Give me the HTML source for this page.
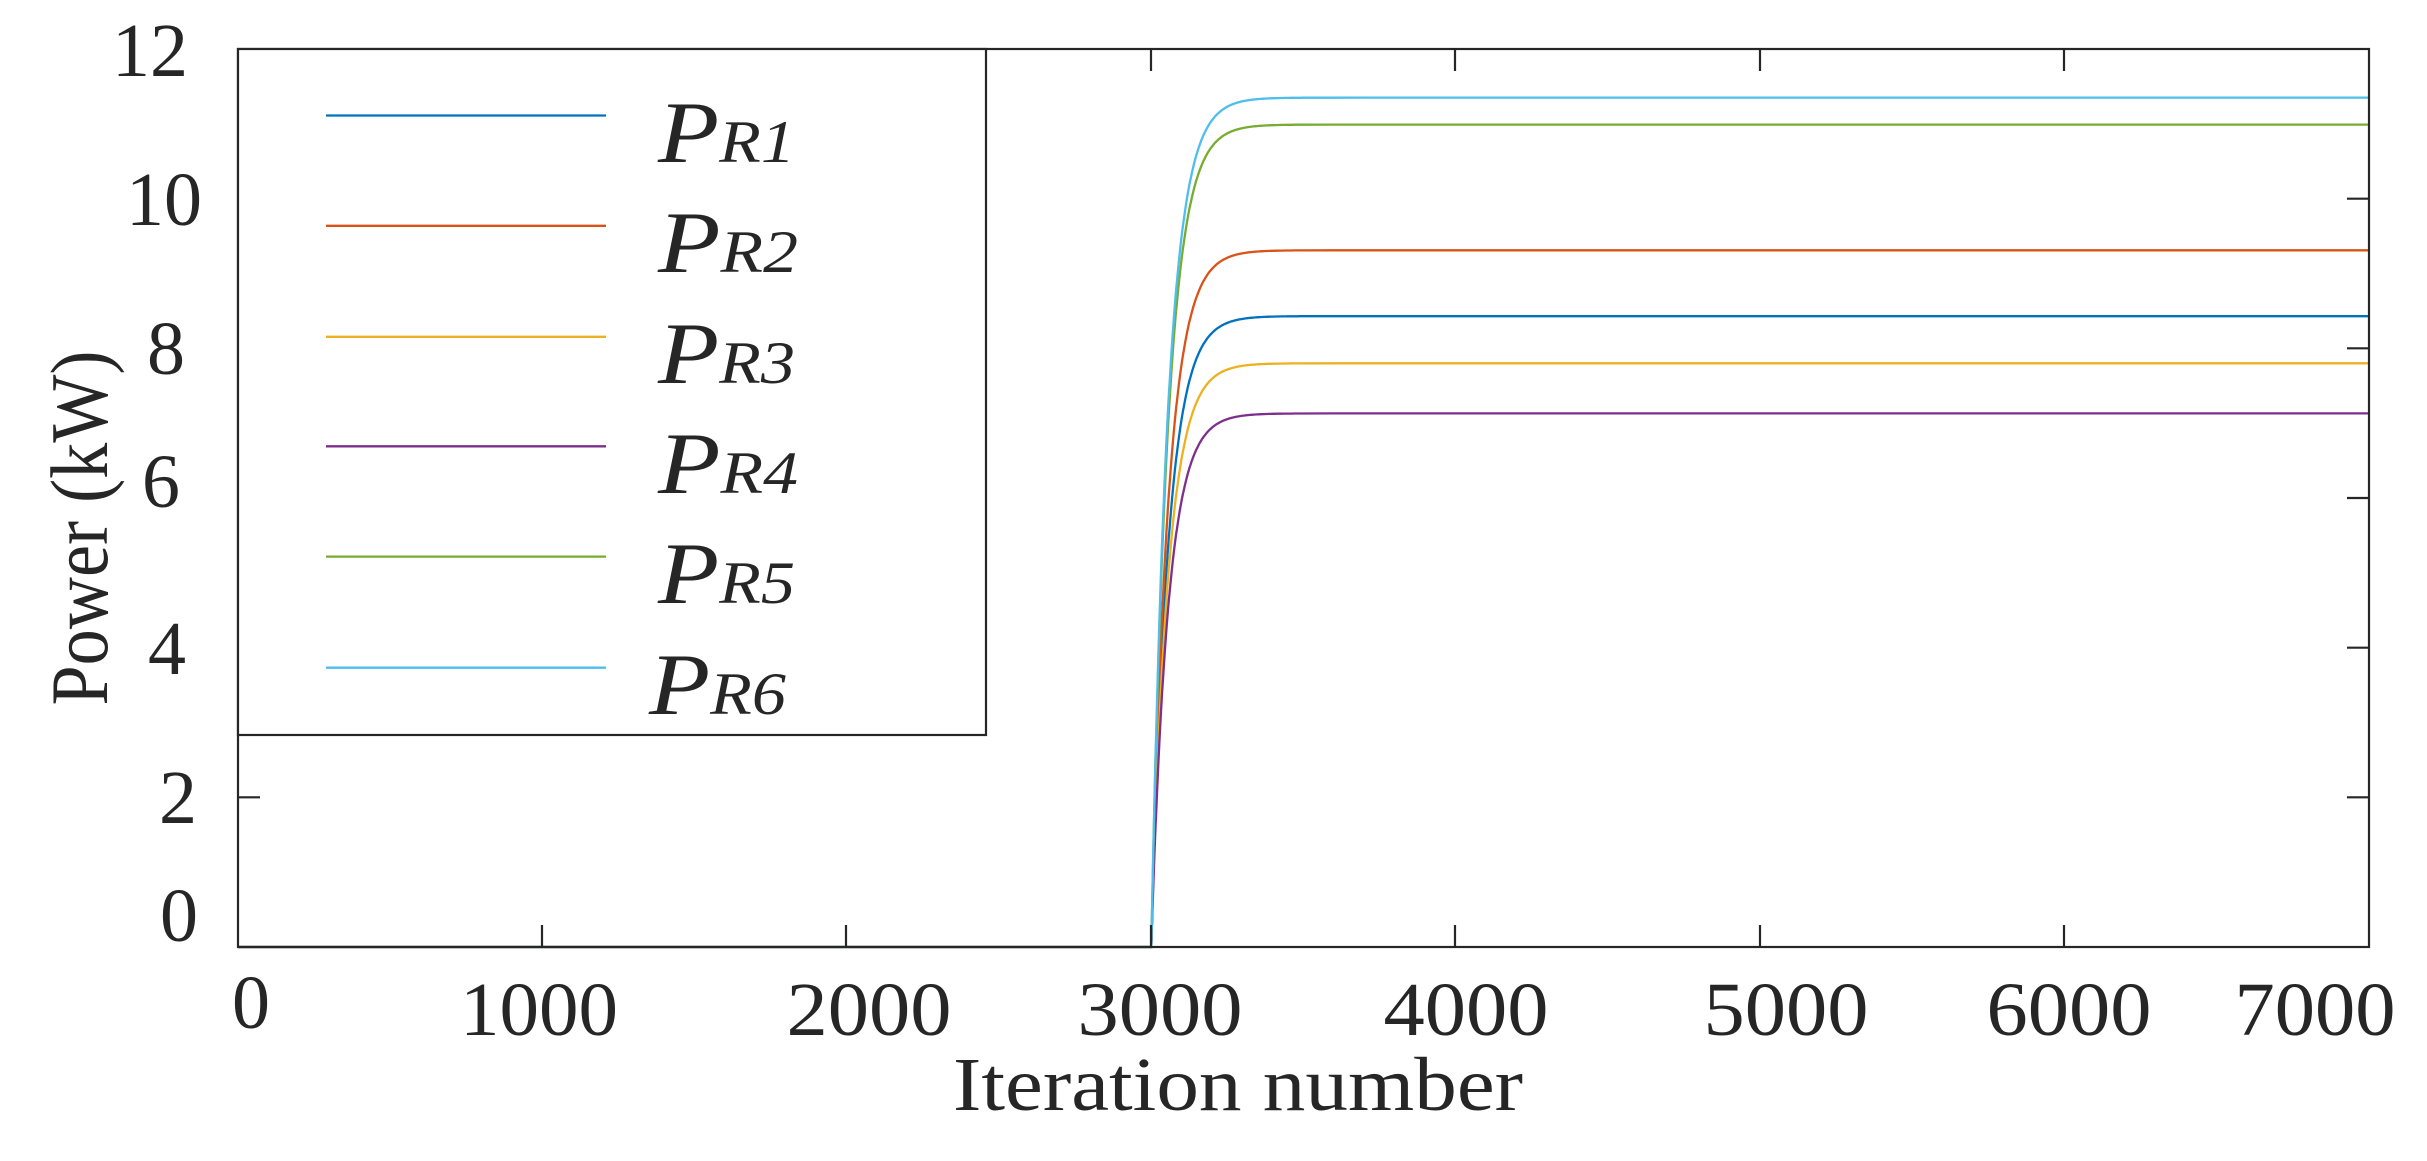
<!DOCTYPE html>
<html><head><meta charset="utf-8"><style>
html,body{margin:0;padding:0;background:#fff;}
svg{display:block;}
text{font-family:"Liberation Serif",serif;fill:#262626;}
</style></head><body>
<svg id="s" width="2427" height="1161" viewBox="0 0 2427 1161" xmlns="http://www.w3.org/2000/svg">
<g id="series" fill="none" stroke-width="2.3"></g>
<g stroke="#262626" stroke-width="2.2" fill="none">
<rect x="238" y="49" width="2131" height="898"/>
<path d="M542,947v-22M846,947v-22M1151,947v-22M1455,947v-22M1760,947v-22M2064,947v-22
M542,49v22M846,49v22M1151,49v22M1455,49v22M1760,49v22M2064,49v22
M238,797.3h22M2369,797.3h-22M2369,647.7h-22M2369,498h-22M2369,348.3h-22M2369,198.7h-22"/>
</g>
<g font-size="76" text-anchor="end">
<text x="188" y="76">12</text>
<text x="202" y="225">10</text>
<text x="185" y="374">8</text>
<text x="180" y="507">6</text>
<text x="186" y="674">4</text>
<text x="197" y="823">2</text>
<text x="198" y="941">0</text>
</g>
<g font-size="76" text-anchor="middle">
<text x="251" y="1028">0</text>
<text x="539" y="1035" textLength="158" lengthAdjust="spacingAndGlyphs">1000</text>
<text x="869" y="1035" textLength="165" lengthAdjust="spacingAndGlyphs">2000</text>
<text x="1160" y="1035" textLength="165" lengthAdjust="spacingAndGlyphs">3000</text>
<text x="1466" y="1035" textLength="165" lengthAdjust="spacingAndGlyphs">4000</text>
<text x="1786" y="1035" textLength="165" lengthAdjust="spacingAndGlyphs">5000</text>
<text x="2069" y="1035" textLength="165" lengthAdjust="spacingAndGlyphs">6000</text>
<text x="2315" y="1035" textLength="161" lengthAdjust="spacingAndGlyphs">7000</text>
</g>
<text x="953" y="1110" font-size="76" textLength="570" lengthAdjust="spacingAndGlyphs">Iteration number</text>
<text transform="translate(107,528) rotate(-90)" font-size="82" text-anchor="middle" textLength="355" lengthAdjust="spacingAndGlyphs">Power (kW)</text>
<rect x="238" y="49" width="748" height="686" fill="#fff" stroke="#262626" stroke-width="2.2"/>
<g stroke-width="2.3">
<line x1="326" x2="606" y1="115.5" y2="115.5" stroke="#0072BD"/>
<line x1="326" x2="606" y1="225.8" y2="225.8" stroke="#D95319"/>
<line x1="326" x2="606" y1="336.8" y2="336.8" stroke="#EDB120"/>
<line x1="326" x2="606" y1="446.3" y2="446.3" stroke="#7E2F8E"/>
<line x1="326" x2="606" y1="556.6" y2="556.6" stroke="#77AC30"/>
<line x1="326" x2="606" y1="667.7" y2="667.7" stroke="#4DBEEE"/>
</g>
<g font-style="italic">
<text x="658" y="162" font-size="88" textLength="137" lengthAdjust="spacingAndGlyphs">P<tspan font-size="60">R1</tspan></text>
<text x="658" y="272" font-size="88" textLength="140" lengthAdjust="spacingAndGlyphs">P<tspan font-size="60">R2</tspan></text>
<text x="658" y="383" font-size="88" textLength="137" lengthAdjust="spacingAndGlyphs">P<tspan font-size="60">R3</tspan></text>
<text x="658" y="493" font-size="88" textLength="140" lengthAdjust="spacingAndGlyphs">P<tspan font-size="60">R4</tspan></text>
<text x="658" y="603" font-size="88" textLength="137" lengthAdjust="spacingAndGlyphs">P<tspan font-size="60">R5</tspan></text>
<text x="649" y="714" font-size="88" textLength="137" lengthAdjust="spacingAndGlyphs">P<tspan font-size="60">R6</tspan></text>
</g>
</svg>
<script>
var vals=[8.43,9.31,7.80,7.13,10.99,11.35];
var cols=["#0072BD","#D95319","#EDB120","#7E2F8E","#77AC30","#4DBEEE"];
var g=document.getElementById("series");
function X(t){return 238+t*2131/7000;}
function Y(v){return 947-v*898/12;}
for(var i=0;i<6;i++){
  var d="M"+X(0)+","+Y(0)+"L"+X(3000)+","+Y(0);
  for(var t=3000;t<=7000;t+=(t<3500?2:100)){
    var v=vals[i]*(1-Math.exp(-(t-3000)/55));
    d+="L"+X(t).toFixed(1)+","+Y(v).toFixed(1);
  }
  var p=document.createElementNS("http://www.w3.org/2000/svg","path");
  p.setAttribute("d",d);p.setAttribute("stroke",cols[i]);
  g.appendChild(p);
}
</script>
</body></html>
